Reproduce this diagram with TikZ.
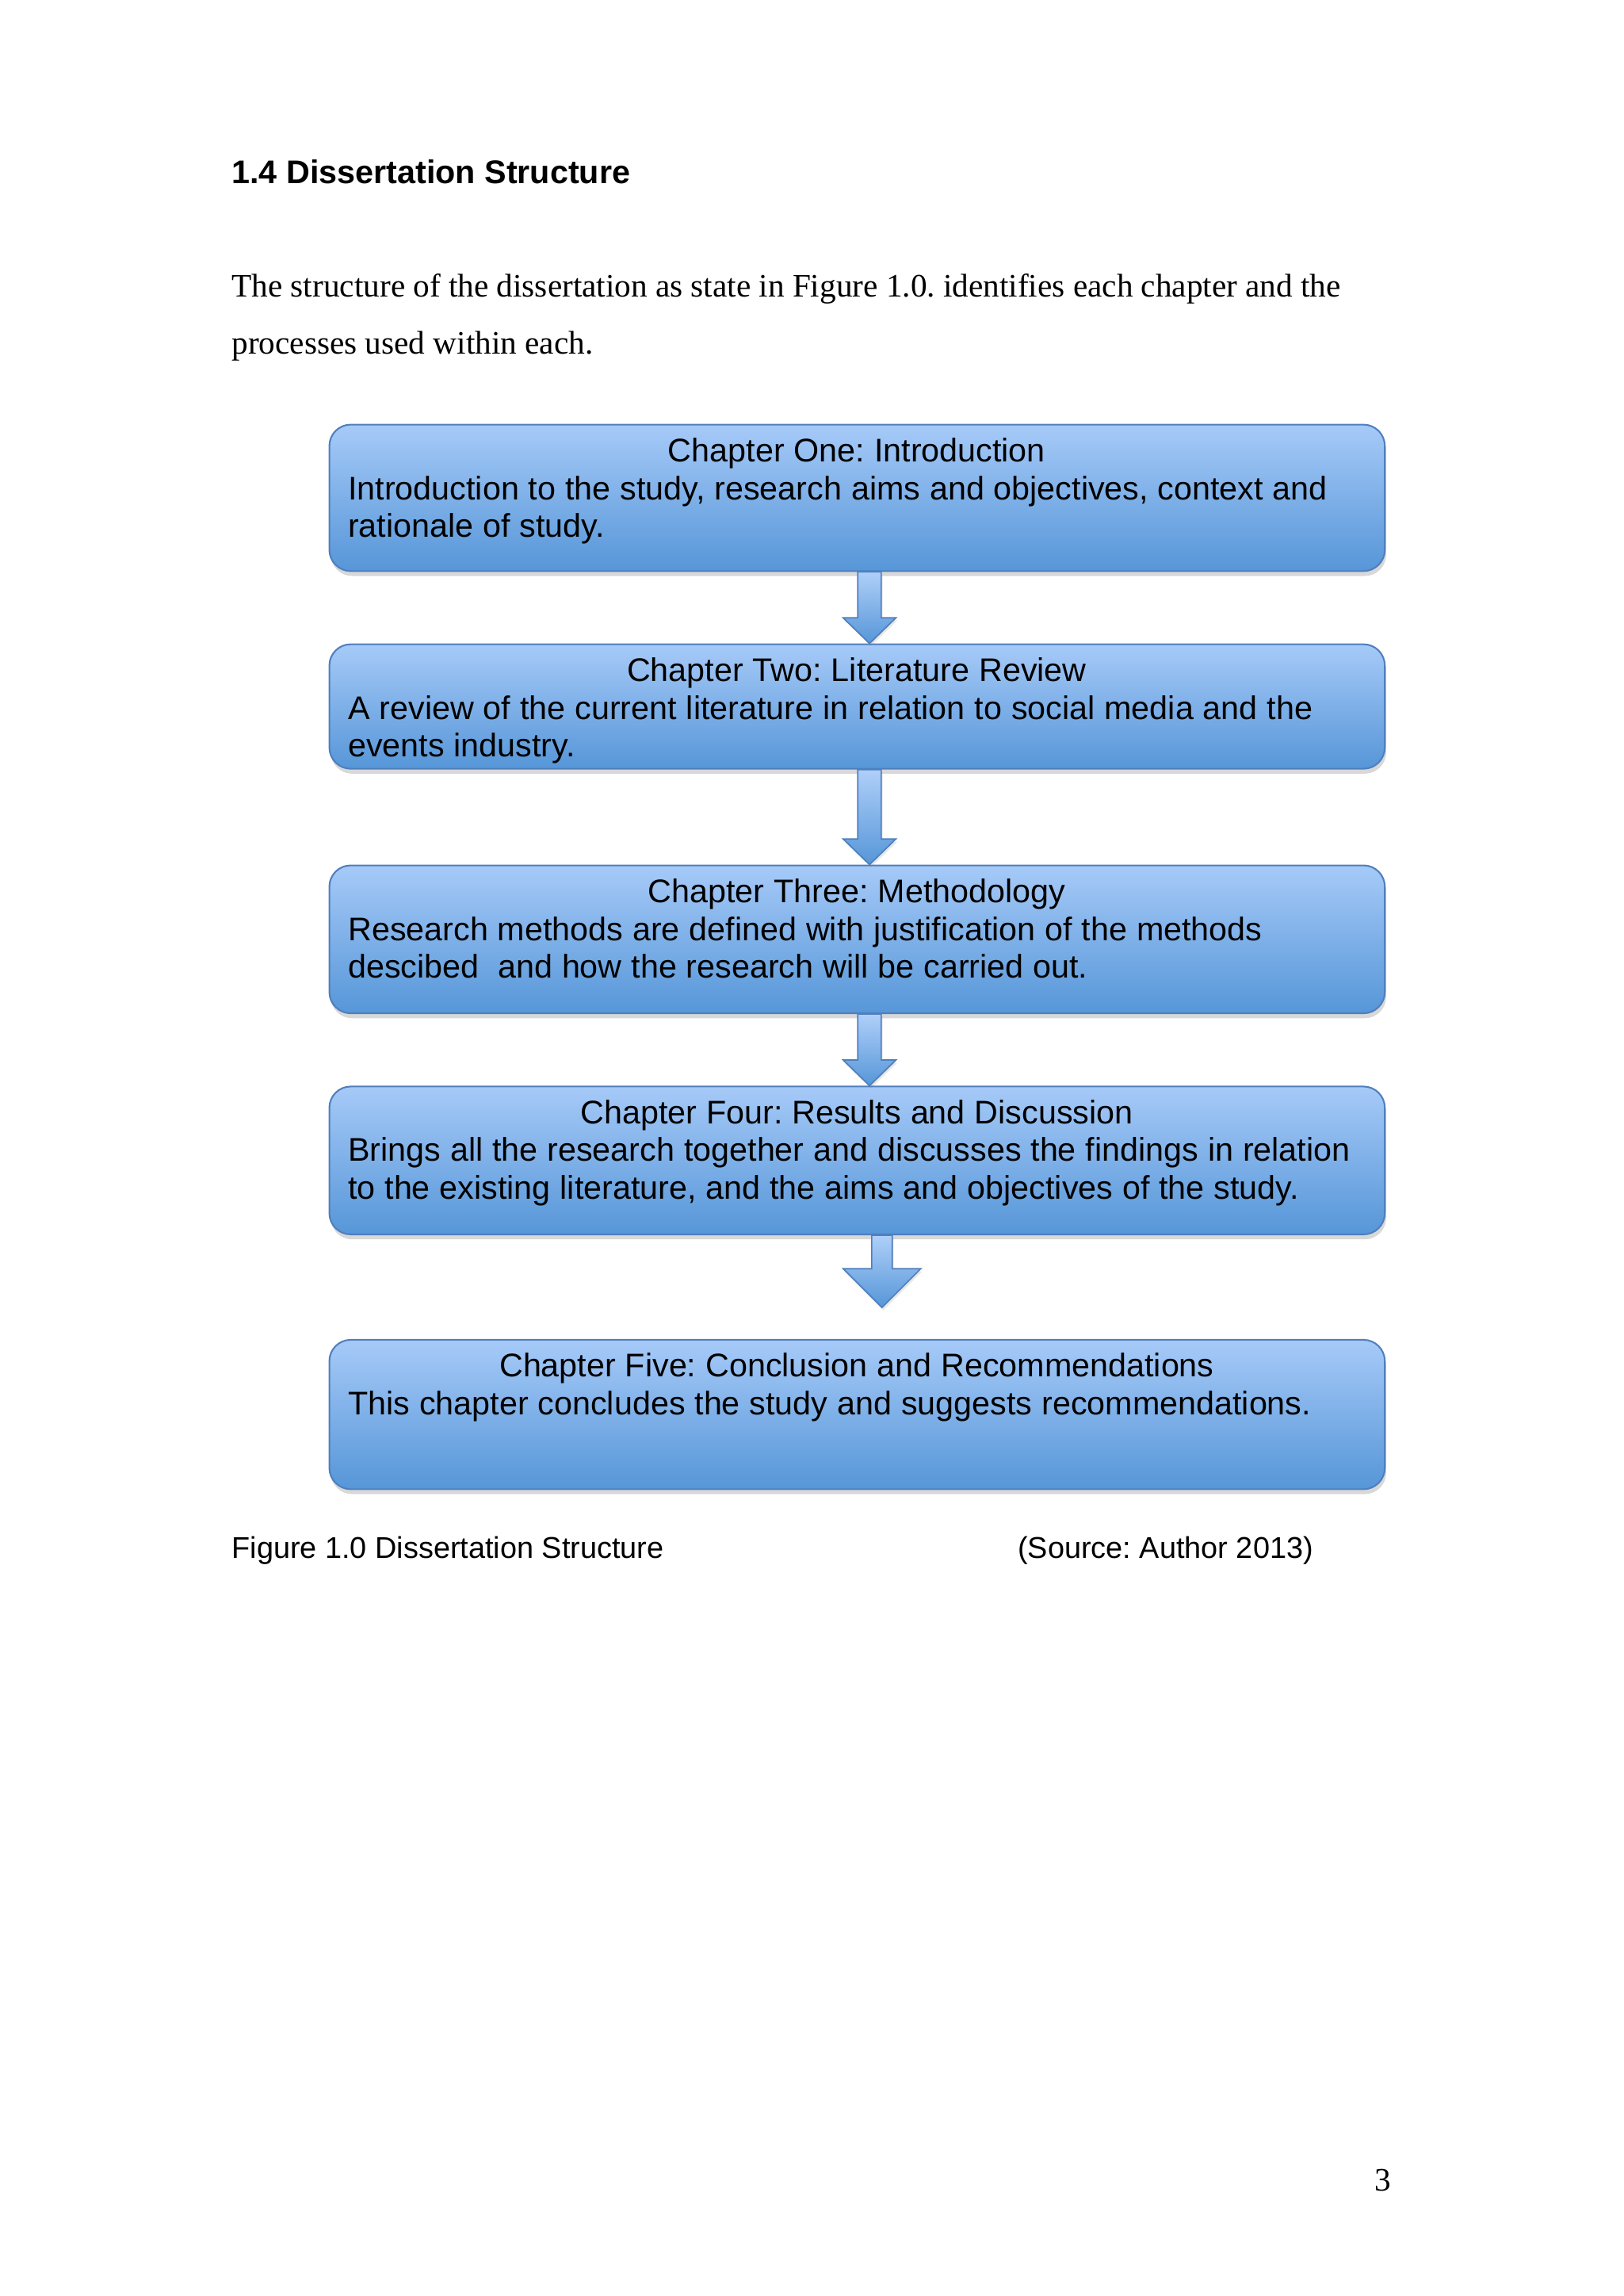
\documentclass[tikz,border=0pt]{standalone}
\usepackage{fontspec}
\setmainfont{Liberation Serif}
\newfontfamily\arialfont{Liberation Sans}
\usetikzlibrary{calc,fit,shadows}

\definecolor{boxtop}{RGB}{166,202,248}
\definecolor{boxbot}{RGB}{86,150,216}
\definecolor{boxline}{RGB}{79,127,190}

\frenchspacing
\begin{document}
\begin{tikzpicture}[x=0.5366pt,y=-0.5366pt]
	\tikzstyle{chap}=[rectangle,rounded corners=7.8pt,draw=boxline,line width=0.6pt,top color=boxtop,bottom color=boxbot,inner sep=0pt,drop shadow={opacity=0.3,shadow xshift=0.5pt,shadow yshift=-1.8pt}];
	\tikzstyle{chaptext}=[anchor=base west,inner sep=0pt,text width=372.9pt,align=left,font=\arialfont\fontsize{12}{13.8}\selectfont,execute at begin node={\spaceskip=3.45pt\relax}];
	\tikzstyle{downarr}=[draw=boxline,line width=0.5pt,line join=miter,top color=boxtop!90!white,bottom color=boxbot,drop shadow={opacity=0.18,shadow xshift=0.5pt,shadow yshift=-1pt}];
	\tikzstyle{plain}=[anchor=base west,inner sep=0pt];

	\useasboundingbox (0,0) rectangle (1109,1568);
	\fill[white] (0,0) rectangle (1109,1568);

	% page text
	\node[plain,font=\arialfont\bfseries\fontsize{12}{14}\selectfont] (head) at (158,125.5) {1.4 Dissertation Structure};
	\node[plain,text width=430pt,align=left,font=\fontsize{12}{20.9}\selectfont] (intro) at (158,202.6)
		{\spaceskip=2.95pt\relax\mbox{The structure of the dissertation as state in Figure 1.0. identifies each chapter and the}\\\mbox{processes used within each.}};

	% chapter boxes
	\node[chap,fit={(225,290) (946,390)}]   (ch1) {};
	\node[chap,fit={(225,440) (946,525)}]   (ch2) {};
	\node[chap,fit={(225,591) (946,692)}]   (ch3) {};
	\node[chap,fit={(225,742) (946,843)}]   (ch4) {};
	\node[chap,fit={(225,915) (946,1017)}]  (ch5) {};

	\node[chaptext] (t1) at ($(ch1.north west)+(13,26)$) {\makebox[\linewidth]{Chapter One: Introduction}\\
		\mbox{Introduction to the study, research aims and objectives, context and}\\\mbox{rationale of study.}};
	\node[chaptext] (t2) at ($(ch2.north west)+(13,26)$) {\makebox[\linewidth]{Chapter Two: Literature Review}\\
		\mbox{A review of the current literature in relation to social media and the}\\\mbox{events industry.}};
	\node[chaptext] (t3) at ($(ch3.north west)+(13,26)$) {\makebox[\linewidth]{Chapter Three: Methodology}\\
		\mbox{Research methods are defined with justification of the methods}\\\mbox{descibed\ \ and how the research will be carried out.}};
	\node[chaptext] (t4) at ($(ch4.north west)+(13,26)$) {\makebox[\linewidth]{Chapter Four: Results and Discussion}\\
		\mbox{Brings all the research together and discusses the findings in relation}\\\mbox{to the existing literature, and the aims and objectives of the study.}};
	\node[chaptext] (t5) at ($(ch5.north west)+(13,26)$) {\makebox[\linewidth]{Chapter Five: Conclusion and Recommendations}\\
		\mbox{This chapter concludes the study and suggests recommendations.}};

	% block arrows
	\coordinate (a1s) at ($(ch1.south)+(8.5,0)$);
	\coordinate (a1e) at ($(ch2.north)+(8.5,0)$);
	\coordinate (a2s) at ($(ch2.south)+(8.5,0)$);
	\coordinate (a2e) at ($(ch3.north)+(8.5,0)$);
	\coordinate (a3s) at ($(ch3.south)+(8.5,0)$);
	\coordinate (a3e) at ($(ch4.north)+(8.5,0)$);
	\coordinate (a4s) at ($(ch4.south)+(17,0)$);
	\coordinate (a4e) at ($(ch5.north)+(17,-21.5)$);
	\draw[downarr] ($(a1s)+(-8,0)$) -- ($(a1e)+(-8,-17.5)$) -- ($(a1e)+(-18,-17.5)$) -- (a1e)
		-- ($(a1e)+(18,-17.5)$) -- ($(a1e)+(8,-17.5)$) -- ($(a1s)+(8,0)$) -- cycle;
	\draw[downarr] ($(a2s)+(-8,0)$) -- ($(a2e)+(-8,-17.5)$) -- ($(a2e)+(-18,-17.5)$) -- (a2e)
		-- ($(a2e)+(18,-17.5)$) -- ($(a2e)+(8,-17.5)$) -- ($(a2s)+(8,0)$) -- cycle;
	\draw[downarr] ($(a3s)+(-8,0)$) -- ($(a3e)+(-8,-17.5)$) -- ($(a3e)+(-18,-17.5)$) -- (a3e)
		-- ($(a3e)+(18,-17.5)$) -- ($(a3e)+(8,-17.5)$) -- ($(a3s)+(8,0)$) -- cycle;
	\draw[downarr] ($(a4s)+(-7,0)$) -- ($(a4e)+(-7,-26.5)$) -- ($(a4e)+(-26.5,-26.5)$) -- (a4e)
		-- ($(a4e)+(26.5,-26.5)$) -- ($(a4e)+(7,-26.5)$) -- ($(a4s)+(7,0)$) -- cycle;

	% caption and page number
	\node[plain,font=\arialfont\fontsize{11}{13}\selectfont] (cap) at (158,1064) {Figure 1.0 Dissertation Structure};
	\node[plain,font=\arialfont\fontsize{11}{13}\selectfont] (src) at (695,1064) {(Source: Author 2013)};
	\node[plain,font=\fontsize{12}{14}\selectfont] (pg) at (938.5,1496) {3};
\end{tikzpicture}
\end{document}
